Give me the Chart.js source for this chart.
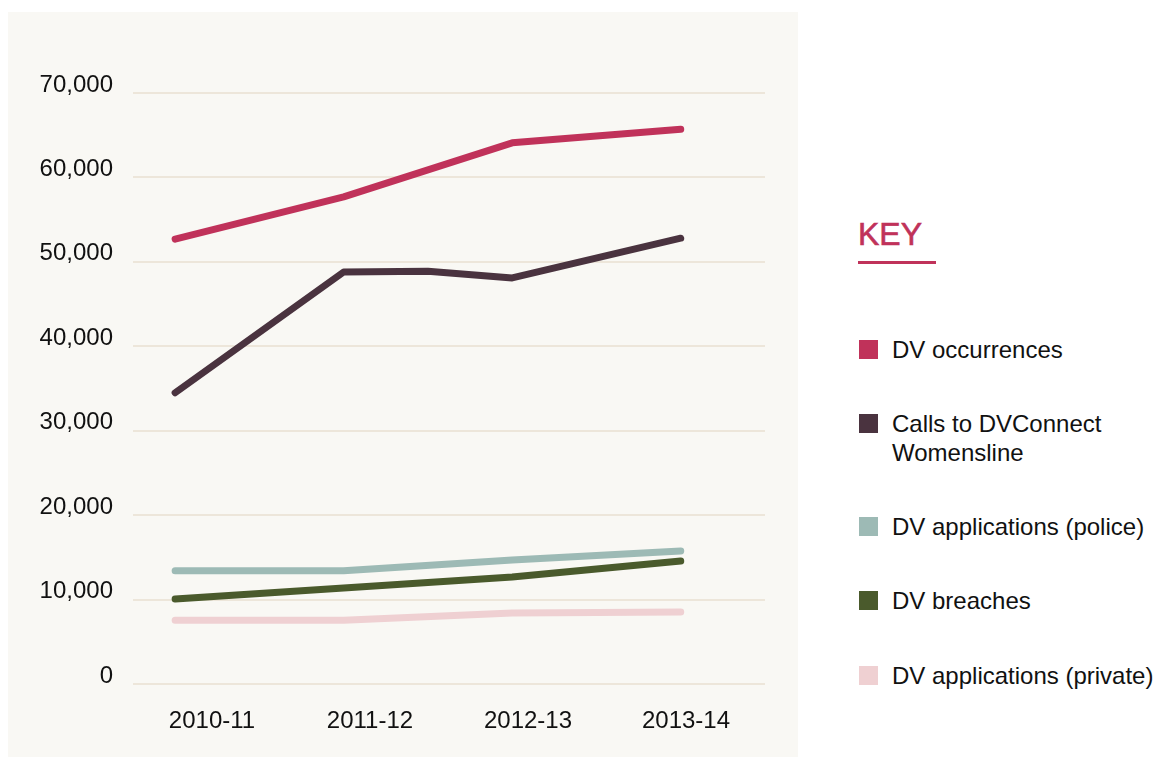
<!DOCTYPE html>
<html>
<head>
<meta charset="utf-8">
<script src="https://cdn.jsdelivr.net/npm/chart.js@4/dist/chart.umd.min.js"></script>
<style>
  html, body { margin: 0; padding: 0; background: #fff; }
  body { width: 1162px; height: 758px; position: relative; overflow: hidden;
         font-family: "Helvetica Neue", Helvetica, "Liberation Sans", Arial, sans-serif; color: #111; }
  .panel { position: absolute; left: 8px; top: 12px; width: 790px; height: 745px; background: #f9f8f4; }
  .key { position: absolute; left: 858px; top: 214px; font-size: 32px; color: #c0325a; line-height: 40px;
         -webkit-text-stroke: 0.6px #c0325a; }
  .keyline { position: absolute; left: 858px; top: 261px; width: 78px; height: 3px; background: #c0325a; }
  .item { position: absolute; left: 859px; font-size: 24px; line-height: 29px; }
  .item span.sw { position: absolute; left: 0; top: 5px; width: 19px; height: 19px; }
  .item span.tx { position: absolute; left: 33px; top: 0; white-space: nowrap; }
</style>
</head>
<body>
<div class="panel"><canvas id="chart" width="790" height="745"></canvas></div>
<div class="key">KEY</div>
<div class="keyline"></div>
<div id="legend"></div>
<script>
// x labels
const years = ['2010-11', '2011-12', '2012-13', '2013-14'];
const yearIdx = [0, 1, 2, 3];

// series values
const occurrences = [52700, 57700, 64100, 65700];
const callsX = [0, 1, 1.5, 2, 3];
const calls = [34500, 48800, 48900, 48100, 52800];
const policeApps = [13400, 13400, 14700, 15750];
const breaches = [10070, 11370, 12670, 14570];
const privateApps = [7550, 7550, 8420, 8530];

const yTicks = [0, 10000, 20000, 30000, 40000, 50000, 60000, 70000];

const names = ['DV occurrences', 'Calls to DVConnect\nWomensline', 'DV applications (police)', 'DV breaches', 'DV applications (private)'];
const colors = ['#c0325a', '#4a333f', '#9dbab5', '#4a5a2c', '#efd0d2'];
const legendTops = [335, 409, 512, 586, 661];

function pts(xs, ys) {
    return ys.map((v, i) => ({ x: xs[i], y: v }));
}

const series = [
    pts(yearIdx, occurrences),
    pts(callsX, calls),
    pts(yearIdx, policeApps),
    pts(yearIdx, breaches),
    pts(yearIdx, privateApps)
];

// draw order: light ones underneath
const order = [4, 2, 3, 1, 0];

const fontFamily = '"Helvetica Neue", Helvetica, "Liberation Sans", Arial, sans-serif';

new Chart(document.getElementById('chart'), {
    type: 'line',
    data: {
        labels: years,
        datasets: order.map(i => ({
            label: names[i],
            data: series[i],
            xAxisID: 'x2',
            borderColor: colors[i],
            backgroundColor: colors[i],
            borderWidth: 7,
            borderCapStyle: 'round',
            borderJoinStyle: 'round',
            pointRadius: 0,
            tension: 0,
            fill: false
        }))
    },
    options: {
        responsive: false,
        animation: false,
        layout: { padding: { top: 81, right: 33, left: 0, bottom: 0 } },
        plugins: { legend: { display: false }, tooltip: { enabled: false } },
        scales: {
            x: {
                type: 'category',
                offset: true,
                grid: { display: false },
                border: { display: false },
                ticks: { color: '#111', padding: 15, font: { family: fontFamily, size: 24 } },
                afterFit: s => { s.height = 73; }
            },
            x2: {
                type: 'linear',
                display: false,
                min: -0.25,
                max: 3.5
            },
            y: {
                min: 0,
                max: 70000,
                afterBuildTicks: s => { s.ticks = yTicks.map(v => ({ value: v })); },
                grid: { color: '#ede6da', lineWidth: 2, drawTicks: false },
                border: { display: false },
                ticks: {
                    color: '#111',
                    padding: 20,
                    labelOffset: -8,
                    font: { family: fontFamily, size: 24 },
                    callback: v => v.toLocaleString('en-US')
                },
                afterFit: s => { s.width = 125; }
            }
        }
    }
});

// legend on the right
const legend = document.getElementById('legend');
names.forEach((n, i) => {
    const d = document.createElement('div');
    d.className = 'item';
    d.style.top = legendTops[i] + 'px';
    const sw = document.createElement('span');
    sw.className = 'sw';
    sw.style.background = colors[i];
    const tx = document.createElement('span');
    tx.className = 'tx';
    tx.innerHTML = n.replace('\n', '<br>');
    d.appendChild(sw);
    d.appendChild(tx);
    legend.appendChild(d);
});
</script>
</body>
</html>
